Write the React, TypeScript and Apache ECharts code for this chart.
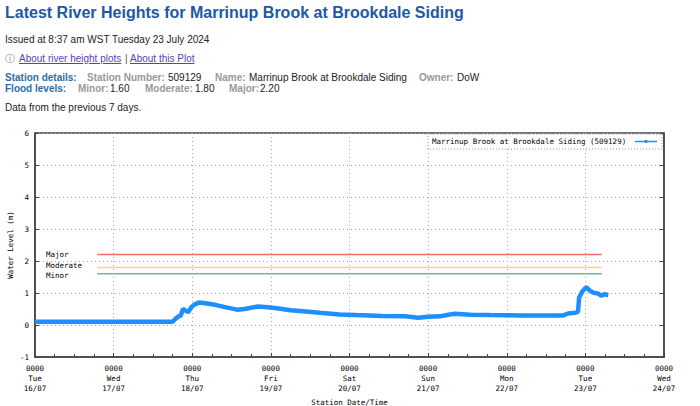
import React, { useEffect, useRef } from "react";
import * as echarts from "echarts";

const times = [
  "16/07 00:00", "17/07 18:00", "17/07 18:45", "17/07 19:40", "17/07 20:30", "17/07 21:10",
  "17/07 22:00", "17/07 22:45", "17/07 23:40", "18/07 00:30", "18/07 02:00", "18/07 04:00",
  "18/07 07:00", "18/07 10:00", "18/07 13:40", "18/07 16:00", "18/07 20:00", "18/07 22:15",
  "19/07 01:15", "19/07 06:00", "19/07 09:00", "19/07 15:00", "19/07 21:00", "20/07 02:00",
  "20/07 10:00", "20/07 17:00", "20/07 21:00", "21/07 00:00", "21/07 03:30", "21/07 06:40",
  "21/07 08:10", "21/07 13:00", "21/07 19:00", "22/07 04:00", "22/07 17:15", "22/07 18:45",
  "22/07 20:50", "22/07 21:45", "22/07 22:05", "22/07 23:00", "23/07 00:15", "23/07 01:30",
  "23/07 02:30", "23/07 04:00", "23/07 04:50", "23/07 05:45", "23/07 07:00",
];
const levels = [
  0.1, 0.1, 0.18, 0.26, 0.3, 0.5,
  0.45, 0.4, 0.55, 0.63, 0.7, 0.68,
  0.63, 0.56, 0.48, 0.5, 0.58, 0.56,
  0.53, 0.46, 0.44, 0.38, 0.33, 0.31,
  0.28, 0.27, 0.23, 0.26, 0.27, 0.33,
  0.35, 0.32, 0.31, 0.3, 0.3, 0.36,
  0.38, 0.42, 0.86, 1.04, 1.18, 1.06,
  1.01, 0.98, 0.91, 0.96, 0.94,
];

const floodNames = ["Major", "Moderate", "Minor"];
const floodLevels = [2.2, 1.8, 1.6];
const floodColors = ["#f26b6b", "#f5d47a", "#6fb98f"];
const floodLabelShift = [0, -1.5, 1.5];
const floodStart = "16/07 19:00";
const floodEnd = "23/07 05:00";

const dayNames = ["Tue", "Wed", "Thu", "Fri", "Sat", "Sun", "Mon", "Tue", "Wed"];
const dayDates = ["16/07", "17/07", "18/07", "19/07", "20/07", "21/07", "22/07", "23/07", "24/07"];

const seriesName = "Marrinup Brook at Brookdale Siding (509129)";

function toHours(s: string): number {
  const [d, t] = s.split(" ");
  const day = parseInt(d.split("/")[0], 10);
  const [h, m] = t.split(":").map((v) => parseInt(v, 10));
  return (day - 16) * 24 + h + m / 60;
}

const MONO = "'DejaVu Sans Mono', 'Liberation Mono', monospace";
const SANS = "'Liberation Sans', Arial, sans-serif";

function Chart() {
  const ref = useRef<HTMLDivElement>(null);
  useEffect(() => {
    if (!ref.current) return;
    const chart = echarts.init(ref.current, null, { renderer: "svg" });
    const data = times.map((t, i) => [toHours(t), levels[i]]);
    const floodSeries = floodNames.map((n, i) => ({
      type: "line",
      name: n,
      symbol: "circle",
      symbolSize: 0.5,
      showSymbol: true,
      silent: true,
      itemStyle: { color: floodColors[i] },
      lineStyle: { color: floodColors[i], width: 1.5 },
      data: [
        {
          value: [toHours(floodStart), floodLevels[i]],
          label: {
            show: true,
            formatter: n,
            position: [-51, floodLabelShift[i]],
            align: "left",
            verticalAlign: "middle",
            fontFamily: MONO,
            fontSize: 7.5,
            lineHeight: 7,
            color: "#000",
          },
        },
        { value: [toHours(floodEnd), floodLevels[i]] },
      ],
      z: 2,
    }));
    const axisColor = "#444";
    const option: any = {
      animation: false,
      grid: {
        left: 35,
        right: 36,
        top: 133,
        bottom: 49,
        show: true,
        borderColor: axisColor,
        borderWidth: 1.5,
        containLabel: false,
        outerBoundsMode: "none",
      },
      xAxis: {
        type: "value",
        min: 0,
        max: 192,
        interval: 24,
        axisLine: { show: true, onZero: false, lineStyle: { color: axisColor, width: 1.5 } },
        axisTick: { show: true, inside: true, length: 4, lineStyle: { color: axisColor } },
        minorTick: { show: true, splitNumber: 4, length: 3, lineStyle: { color: axisColor } },
        splitLine: { show: true, lineStyle: { color: "#aaa", type: [1, 3] } },
        axisLabel: {
          formatter: (v: number) => {
            const i = Math.round(v / 24);
            return "0000\n" + dayNames[i] + "\n" + dayDates[i];
          },
          fontFamily: MONO,
          fontSize: 7.5,
          lineHeight: 10,
          color: "#000",
          margin: 6,
        },
        name: "Station Date/Time",
        nameLocation: "middle",
        nameGap: 41,
        nameMoveOverlap: false,
        nameTextStyle: { fontFamily: MONO, fontSize: 7.5, color: "#000" },
      },
      yAxis: [
        {
          type: "value",
          min: -1,
          max: 6,
          interval: 1,
          axisLine: { show: true, lineStyle: { color: axisColor, width: 1.5 } },
          axisTick: { show: true, inside: true, length: 4, lineStyle: { color: axisColor } },
          splitLine: { show: true, lineStyle: { color: "#aaa", type: [1, 3] } },
          axisLabel: { fontFamily: MONO, fontSize: 7.5, color: "#000", margin: 6 },
          name: "Water Level (m)",
          nameLocation: "middle",
          nameGap: 21,
          nameMoveOverlap: false,
          nameTextStyle: { fontFamily: MONO, fontSize: 7.5, color: "#000" },
        },
        {
          type: "value",
          position: "right",
          min: -1,
          max: 6,
          interval: 1,
          axisLine: { show: true, lineStyle: { color: axisColor, width: 1.5 } },
          axisTick: { show: true, inside: true, length: 4, lineStyle: { color: axisColor } },
          splitLine: { show: false },
          axisLabel: { show: false },
        },
      ],
      graphic: [
        {
          type: "rect",
          shape: { x: 428, y: 134, width: 234, height: 15 },
          style: { fill: "#fff", stroke: "#999", lineWidth: 1, lineDash: [1, 2] },
          z: 10,
        },
        {
          type: "text",
          x: 432,
          y: 141.5,
          style: {
            text: seriesName,
            fontFamily: MONO,
            fontSize: 7.5,
            fill: "#000",
            verticalAlign: "middle",
          },
          z: 11,
        },
        {
          type: "line",
          shape: { x1: 635, y1: 141.5, x2: 657, y2: 141.5 },
          style: { stroke: "#1e8fff", lineWidth: 1.5 },
          z: 11,
        },
        {
          type: "circle",
          shape: { cx: 646, cy: 141.5, r: 1.6 },
          style: { fill: "#1e8fff" },
          z: 11,
        },
      ],
      series: [
        ...floodSeries,
        {
          type: "line",
          name: seriesName,
          data,
          symbol: "none",
          lineStyle: { color: "#1e8fff", width: 4.5 },
          z: 3,
        },
      ],
    };
    chart.setOption(option);
    return () => chart.dispose();
  }, []);
  return <div ref={ref} style={{ position: "absolute", left: 0, top: 0, width: 700, height: 406 }} />;
}

const gray = { color: "#999", fontWeight: "bold" as const };
const blue = { color: "#2a6ea8", fontWeight: "bold" as const };

function Abs({ x, y, style, children }: any) {
  return (
    <span style={{ position: "absolute", left: x, top: y, whiteSpace: "nowrap", lineHeight: "12px", ...style }}>
      {children}
    </span>
  );
}

export default function App() {
  return (
    <div
      style={{
        position: "absolute",
        left: 0,
        top: 0,
        width: 700,
        height: 406,
        background: "#fff",
        overflow: "hidden",
        fontFamily: SANS,
        fontSize: 10,
        color: "#222",
      }}
    >
      <Chart />
      <div style={{ position: "absolute", left: 0, top: 0, width: 700, height: 120, pointerEvents: "none" }}>
        <Abs x={5} y={2} style={{ fontSize: 16, fontWeight: "bold", color: "#2158a4", lineHeight: "22px" }}>
          Latest River Heights for Marrinup Brook at Brookdale Siding
        </Abs>
        <Abs x={5} y={34}>Issued at 8:37 am WST Tuesday 23 July 2024</Abs>
        <Abs x={5} y={53} style={{ color: "#888" }}>ⓘ</Abs>
        <Abs x={19} y={53} style={{ color: "#5b3fb5", textDecoration: "underline" }}>About river height plots</Abs>
        <Abs x={125} y={53} style={{ color: "#555" }}>|</Abs>
        <Abs x={130} y={53} style={{ color: "#5b3fb5", textDecoration: "underline" }}>About this Plot</Abs>

        <Abs x={5} y={72} style={blue}>Station details:</Abs>
        <Abs x={87} y={72} style={gray}>Station Number:</Abs>
        <Abs x={168} y={72}>509129</Abs>
        <Abs x={215} y={72} style={gray}>Name:</Abs>
        <Abs x={249} y={72}>Marrinup Brook at Brookdale Siding</Abs>
        <Abs x={419} y={72} style={gray}>Owner:</Abs>
        <Abs x={457} y={72}>DoW</Abs>

        <Abs x={5} y={83} style={blue}>Flood levels:</Abs>
        <Abs x={78} y={83} style={gray}>Minor:</Abs>
        <Abs x={110} y={83}>1.60</Abs>
        <Abs x={145} y={83} style={gray}>Moderate:</Abs>
        <Abs x={195} y={83}>1.80</Abs>
        <Abs x={229} y={83} style={gray}>Major:</Abs>
        <Abs x={260} y={83}>2.20</Abs>

        <Abs x={5} y={102}>Data from the previous 7 days.</Abs>
      </div>
    </div>
  );
}
